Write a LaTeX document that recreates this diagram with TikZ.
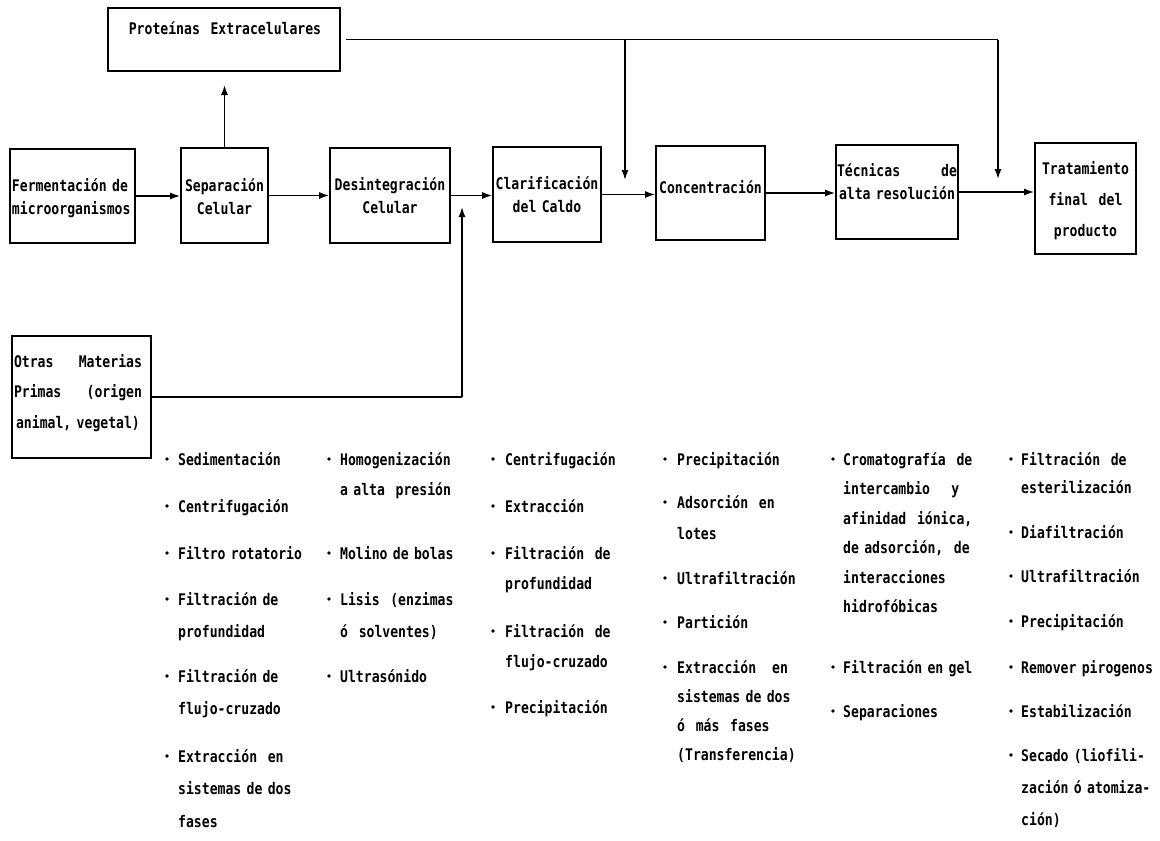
\documentclass[tikz,border=0pt]{standalone}
\usepackage{fontspec}
\setmainfont{DejaVu Sans Mono}[FakeStretch=0.82]
\usetikzlibrary{arrows.meta}

\tikzset{
  blk/.style={draw, line width=1.7pt, inner sep=0pt},
  boxtxt/.style={inner sep=0pt, align=center, text width=#1,
    font=\bfseries\fontsize{16}{23}\selectfont},
  boxtxt/.default=120pt,
  item/.style={anchor=base west, inner sep=0pt, text width=180pt, align=left,
    font=\bfseries\fontsize{16}{#1}\selectfont},
  item/.default=32pt,
  conn/.style={line width=1.5pt, -{Latex[length=10pt,width=7pt]}},
  wire/.style={line width=1.5pt},
}

% box given by its corners (x1,y1) and (x2,y2), y measured downwards
\newcommand\blkbox[5]{%
  \node[blk, minimum width={#4-#2}, minimum height={#5-#3}]
    (#1) at ({(#2+#4)/2},{(#3+#5)/2}) {};}

% list entry: name, bullet x, text x, y of first line, line pitch, text
\newcommand\itm[6]{%
  \fill ({#2},{#4-1}) circle[radius=1.9pt];
  \node[item=#5] (#1) at ({#3},{#4+5}) {#6};}

\begin{document}
\begin{tikzpicture}[x=1pt, y=-1pt]
\useasboundingbox (0,0) rectangle (1160,841);
\fill[white] (0,0) rectangle (1160,841);

% ---- process blocks ----
\blkbox{prot}{108}{8}{340}{71}
\blkbox{ferm}{10}{149}{135}{243}
\blkbox{sep}{181}{148}{268}{243}
\blkbox{des}{330}{148}{450}{243}
\blkbox{cla}{493}{147}{601}{242}
\blkbox{con}{656}{146}{765}{240}
\blkbox{tec}{836}{145}{958}{239}
\blkbox{tra}{1035}{143}{1136}{254}
\blkbox{otr}{12}{336}{151}{458}

% ---- block labels ----
\node[boxtxt=210pt] (protT) at (225,28) {Proteínas~~Extracelulares};
\node[boxtxt=121pt, align=left] (fermT) at (72.5,198) {Fermentación de\\microorganismos};
\node[boxtxt=83pt] (sepT) at (224.5,197) {Separación\\Celular};
\node[boxtxt=116pt] (desT) at (390,196) {Desintegración\\Celular};
\node[boxtxt=104pt] (claT) at (547,195) {Clarificación\\del Caldo};
\node[boxtxt=106pt] (conT) at (710.5,187) {Concentración};
\node[boxtxt=120pt] (tecT) at (897,182) {Técnicas\hfill de\\alta resolución};
\node[boxtxt=96pt, font=\bfseries\fontsize{16}{31}\selectfont] (traT) at (1085.5,201)
  {Tratamiento\\final~~del\\producto};
\node[boxtxt=128pt, font=\bfseries\fontsize{16}{30.5}\selectfont] (otrT) at (78,393)
  {Otras\hfill Materias\\Primas\hfill (origen\\animal, vegetal)};

% ---- connectors ----
\coordinate (protIn) at (224.5,85);
\coordinate (topR) at (998,39.5);
\coordinate (topTip) at (998,179);
\coordinate (midTop) at (625,39.5);
\coordinate (midTip) at (625,180);
\coordinate (otrC) at (462,397);
\coordinate (otrTip) at (462,207);

\draw[conn] (ferm.east) -- (ferm.east -| sep.west);
\draw[conn] (sep.east) -- (sep.east -| des.west);
\draw[conn] (des.east) -- (des.east -| cla.west);
\draw[conn] (cla.east) -- (cla.east -| con.west);
\draw[conn] (con.east) -- (con.east -| tec.west);
\draw[conn] (tec.east) -- (tec.east -| tra.west);
\draw[conn] (sep.north) -- (protIn);
\draw[wire] ([xshift=5pt]prot.east) -- (topR);
\draw[conn] (topR) -- (topTip);
\draw[conn] (midTop) -- (midTip);
\draw[wire] (otr.east |- otrC) -- (otrC);
\draw[conn] (otrC) -- (otrTip);

% ---- lists of operations ----
\itm{a1}{167}{178}{460}{32pt}{Sedimentación}
\itm{a2}{167}{178}{507}{32pt}{Centrifugación}
\itm{a3}{167}{178}{554}{32pt}{Filtro rotatorio}
\itm{a4}{167}{178}{600}{32pt}{Filtración de\\profundidad}
\itm{a5}{167}{178}{677}{32pt}{Filtración de\\flujo-cruzado}
\itm{a6}{167}{178}{757}{32.5pt}{Extracción~~en\\sistemas de dos\\fases}

\itm{b1}{329}{340}{460}{30pt}{Homogenización\\a alta~~presión}
\itm{b2}{329}{340}{554}{32pt}{Molino de bolas}
\itm{b3}{329}{340}{600}{32pt}{Lisis~~(enzimas\\ó~~solventes)}
\itm{b4}{329}{340}{677}{32pt}{Ultrasónido}

\itm{c1}{493}{505}{460}{30pt}{Centrifugación}
\itm{c2}{493}{505}{507}{30pt}{Extracción}
\itm{c3}{493}{505}{554}{30pt}{Filtración~~de\\profundidad}
\itm{c4}{493}{505}{632}{30pt}{Filtración~~de\\flujo-cruzado}
\itm{c5}{493}{505}{708}{30pt}{Precipitación}

\itm{d1}{665}{677}{460}{30pt}{Precipitación}
\itm{d2}{665}{677}{503}{31pt}{Adsorción~~en\\lotes}
\itm{d3}{665}{677}{579}{30pt}{Ultrafiltración}
\itm{d4}{665}{677}{623}{30pt}{Partición}
\itm{d5}{665}{677}{668}{29pt}{Extracción~~~en\\sistemas de dos\\ó~~más~~fases\\(Transferencia)}

\itm{e1}{833}{843}{460}{29.5pt}{Cromatografía~~de\\intercambio~~~~y\\afinidad~~iónica,\\de adsorción,~~de\\interacciones\\hidrofóbicas}
\itm{e2}{833}{843}{668}{30pt}{Filtración en gel}
\itm{e3}{833}{843}{712}{30pt}{Separaciones}

\itm{f1}{1011}{1021}{460}{28pt}{Filtración~~de\\esterilización}
\itm{f2}{1011}{1021}{533}{30pt}{Diafiltración}
\itm{f3}{1011}{1021}{577}{30pt}{Ultrafiltración}
\itm{f4}{1011}{1021}{622}{30pt}{Precipitación}
\itm{f5}{1011}{1021}{668}{30pt}{Remover pirogenos}
\itm{f6}{1011}{1021}{712}{30pt}{Estabilización}
\itm{f7}{1011}{1021}{756}{32pt}{Secado (liofili-\\zación ó atomiza-\\ción)}
\end{tikzpicture}
\end{document}
